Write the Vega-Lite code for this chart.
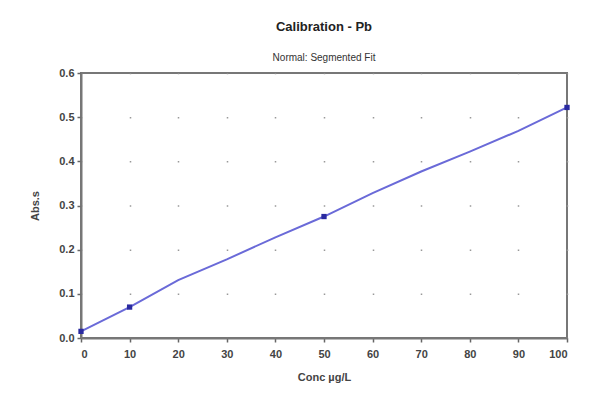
{
  "$schema": "https://vega.github.io/schema/vega-lite/v6.json",
  "autosize": "none",
  "width": 486,
  "height": 265,
  "padding": {"left": 81, "top": 73, "right": 29, "bottom": 60},
  "background": "white",
  "title": {
    "text": "Calibration - Pb",
    "subtitle": "Normal: Segmented Fit",
    "anchor": "middle",
    "font": "Liberation Sans",
    "fontSize": 13,
    "fontWeight": "bold",
    "color": "#222",
    "subtitleFont": "Liberation Sans",
    "subtitleFontSize": 10,
    "subtitleColor": "#333",
    "subtitlePadding": 19,
    "offset": 4
  },
  "config": {
    "view": {"stroke": "#777", "strokeWidth": 2},
    "axis": {
      "labelFont": "Liberation Sans",
      "labelFontSize": 11,
      "labelFontWeight": "bold",
      "labelColor": "#444",
      "titleFont": "Liberation Sans",
      "titleFontSize": 11,
      "titleFontWeight": "bold",
      "titleColor": "#444",
      "domainColor": "#777",
      "domainWidth": 2,
      "tickColor": "#666",
      "tickSize": 4,
      "tickWidth": 1.5
    }
  },
  "datasets": {
    "fit": [
      {"conc": 0, "abs": 0.015},
      {"conc": 10, "abs": 0.07},
      {"conc": 20, "abs": 0.131},
      {"conc": 30, "abs": 0.178},
      {"conc": 40, "abs": 0.228},
      {"conc": 50, "abs": 0.275},
      {"conc": 60, "abs": 0.328},
      {"conc": 70, "abs": 0.377},
      {"conc": 80, "abs": 0.422},
      {"conc": 90, "abs": 0.469},
      {"conc": 100, "abs": 0.522}
    ],
    "std": [
      {"conc": 0, "abs": 0.015},
      {"conc": 10, "abs": 0.07},
      {"conc": 50, "abs": 0.275},
      {"conc": 100, "abs": 0.522}
    ]
  },
  "layer": [
    {
      "data": {"name": "fit"},
      "mark": {"type": "line", "color": "#6a6ad8", "strokeWidth": 2},
      "encoding": {
        "x": {
          "field": "conc", "type": "quantitative",
          "scale": {"domain": [0, 100], "nice": false},
          "axis": {
            "title": "Conc µg/L",
            "values": [0, 10, 20, 30, 40, 50, 60, 70, 80, 90, 100],
            "labelPadding": 6,
            "titlePadding": 12,
            "grid": true,
            "gridColor": "#999",
            "gridWidth": 1.5,
            "gridDash": [1.5, 42.67],
            "gridDashOffset": 0.75
          }
        },
        "y": {
          "field": "abs", "type": "quantitative",
          "scale": {"domain": [0, 0.6], "nice": false},
          "axis": {
            "title": "Abs.s",
            "values": [0, 0.1, 0.2, 0.3, 0.4, 0.5, 0.6],
            "format": ".1f",
            "grid": false,
            "labelPadding": 3,
            "titlePadding": 18
          }
        }
      }
    },
    {
      "data": {"name": "std"},
      "mark": {"type": "square", "color": "#2a2aa0", "size": 28, "opacity": 1},
      "encoding": {
        "x": {"field": "conc", "type": "quantitative"},
        "y": {"field": "abs", "type": "quantitative"}
      }
    }
  ]
}
